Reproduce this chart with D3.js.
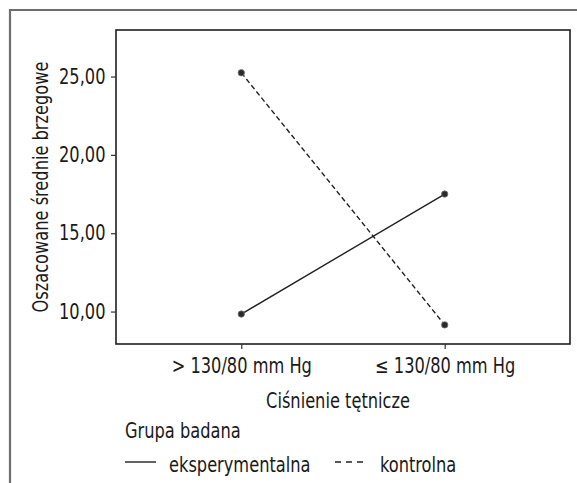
<!DOCTYPE html>
<html>
<head>
<meta charset="utf-8">
<script src="https://cdn.jsdelivr.net/npm/d3@7"></script>
<style>
  body { margin: 0; background: #fff; }
  text { font-family: "DejaVu Sans Condensed", "Liberation Sans", sans-serif; fill: #1a1a1a; }
</style>
</head>
<body>
<div id="chart"></div>
<script>
// estimated marginal means, two groups over two blood pressure levels
var categories = ["> 130/80 mm Hg", "\u2264 130/80 mm Hg"];
var eksperymentalna = [9.84, 17.5];
var kontrolna = [25.24, 9.15];
var yTicks = [10, 15, 20, 25];
var seriesNames = ["eksperymentalna", "kontrolna"];

var W = 577, H = 483;
var plot = { left: 116, top: 30, right: 570, bottom: 344 };
var fs = 20.5;
var squeeze = "scale(0.88,1)"; // no narrow font installed, squeeze the condensed one a bit

var svg = d3.select("#chart").append("svg")
  .attr("width", W)
  .attr("height", H);

// outer frame (only top + left are visible)
svg.append("path")
  .attr("d", "M10," + H + " L10,10 L" + W + ",10")
  .attr("fill", "none")
  .attr("stroke", "#6e6e6e")
  .attr("stroke-width", 2.2);

var x = d3.scalePoint()
  .domain(categories)
  .range([plot.left, plot.right])
  .padding(0.616);

var y = d3.scaleLinear()
  .domain([7.93, 27.97])
  .range([plot.bottom, plot.top]);

// plot box
svg.append("rect")
  .attr("x", plot.left)
  .attr("y", plot.top)
  .attr("width", plot.right - plot.left)
  .attr("height", plot.bottom - plot.top)
  .attr("fill", "none")
  .attr("stroke", "#1e1e1e")
  .attr("stroke-width", 1.6);

// y axis
var yAxis = svg.append("g")
  .attr("transform", "translate(" + plot.left + ",0)")
  .call(d3.axisLeft(y).tickValues(yTicks).tickSize(5).tickPadding(7)
    .tickFormat(function (d) { return d3.format(".2f")(d).replace(".", ","); }));
yAxis.select(".domain").remove();
yAxis.selectAll("line").attr("stroke", "#333").attr("stroke-width", 1.2);
yAxis.selectAll("text")
  .attr("font-size", fs).attr("font-family", null).attr("fill", "#1a1a1a")
  .attr("transform", squeeze);

// x axis
var xAxis = svg.append("g")
  .attr("transform", "translate(0," + plot.bottom + ")")
  .call(d3.axisBottom(x).tickSize(5).tickPadding(9));
xAxis.select(".domain").remove();
xAxis.selectAll("line").attr("stroke", "#333").attr("stroke-width", 1.2);
xAxis.selectAll("text")
  .attr("font-size", fs).attr("font-family", null).attr("fill", "#1a1a1a")
  .attr("transform", squeeze);

// axis titles
svg.append("text")
  .attr("transform", "translate(48," + ((plot.top + plot.bottom) / 2) + ") rotate(-90) " + squeeze)
  .attr("text-anchor", "middle")
  .attr("font-size", fs)
  .text("Oszacowane średnie brzegowe");

svg.append("text")
  .attr("transform", "translate(" + ((plot.left + plot.right) / 2 - 5) + ",408) " + squeeze)
  .attr("text-anchor", "middle")
  .attr("font-size", fs)
  .text("Ciśnienie tętnicze");

// lines
var line = d3.line()
  .x(function (d, i) { return x(categories[i]); })
  .y(function (d) { return y(d); });

var series = [
  { name: seriesNames[0], values: eksperymentalna, dash: null },
  { name: seriesNames[1], values: kontrolna, dash: "5,3" }
];

series.forEach(function (s) {
  svg.append("path")
    .datum(s.values)
    .attr("d", line)
    .attr("fill", "none")
    .attr("stroke", "#222")
    .attr("stroke-width", 1.4)
    .attr("stroke-dasharray", s.dash);

  svg.selectAll(null)
    .data(s.values)
    .enter()
    .append("circle")
    .attr("cx", function (d, i) { return x(categories[i]); })
    .attr("cy", function (d) { return y(d); })
    .attr("r", 3.2)
    .attr("fill", "#2a2a2a")
    .attr("stroke", "#777")
    .attr("stroke-width", 0.8);
});

// legend
function legendText(tx, ty, str) {
  svg.append("text")
    .attr("transform", "translate(" + tx + "," + ty + ") " + squeeze)
    .attr("font-size", fs)
    .text(str);
}

legendText(125, 438, "Grupa badana");

var legY = 462;
svg.append("line")
  .attr("x1", 125).attr("x2", 156)
  .attr("y1", legY).attr("y2", legY)
  .attr("stroke", "#222").attr("stroke-width", 1.4);
legendText(169, 472, seriesNames[0]);

svg.append("line")
  .attr("x1", 335).attr("x2", 363)
  .attr("y1", legY).attr("y2", legY)
  .attr("stroke", "#222").attr("stroke-width", 1.4)
  .attr("stroke-dasharray", "6,5");
legendText(380, 472, seriesNames[1]);
</script>
</body>
</html>
